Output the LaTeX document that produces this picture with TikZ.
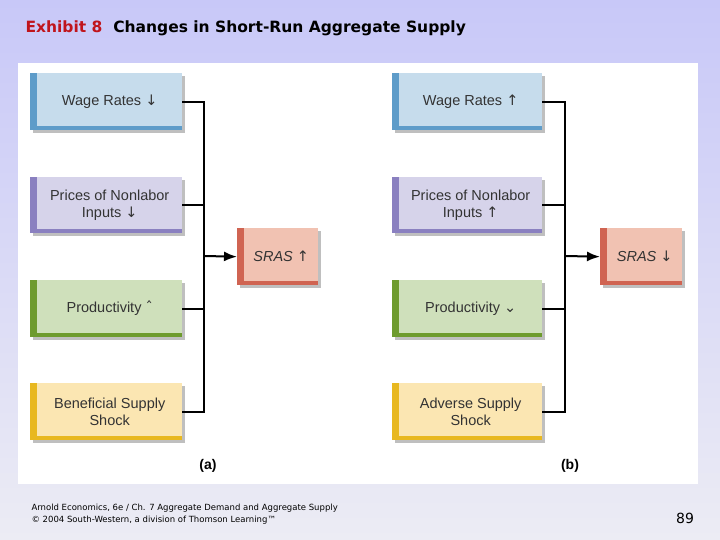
\documentclass[tikz,border=0pt]{standalone}
\usepackage{fontspec}
\usetikzlibrary{arrows.meta}
\setmainfont{Liberation Sans}
\newfontfamily\dvs{DejaVu Sans}
\definecolor{bgtop}{HTML}{C8C8F8}
\definecolor{bgbot}{HTML}{ECECF4}
\definecolor{bL}{HTML}{C6DCEC}\definecolor{bD}{HTML}{5E9CC9}
\definecolor{pL}{HTML}{D6D3EA}\definecolor{pD}{HTML}{8A80C0}
\definecolor{gL}{HTML}{CFE0BB}\definecolor{gD}{HTML}{6E9B2E}
\definecolor{yL}{HTML}{FBE6B2}\definecolor{yD}{HTML}{E8B820}
\definecolor{rL}{HTML}{F1C2B2}\definecolor{rD}{HTML}{D06452}
\definecolor{ttl}{HTML}{C0141C}
\newcommand{\mkbox}[8]{%
  \fill[black!25] (#2+3,#3+3) rectangle (#4+3,#5+3);
  \node[fill=#6,inner sep=0pt,minimum width=#4-#2,minimum height=#5-#3,anchor=north west] (#1) at (#2,#3) {};
  \fill[#7] (#1.south west) rectangle ([yshift=4]#1.south east);
  \fill[#7] (#1.south west) rectangle ([xshift=7]#1.north west);
  \node[txt] at ([xshift=3.5]#1.center) {#8};
}
\begin{document}
\begin{tikzpicture}[x=1pt,y=-1pt,
  txt/.style={font=\fontsize{14.5}{17}\selectfont,text=black!80,align=center},
  conn/.style={line width=2pt},
  arr/.style={line width=2pt,-{Latex[length=13pt,width=10pt]}}]
\useasboundingbox (0,0) rectangle (720,540);
\shade[top color=bgtop,bottom color=bgbot] (0,0) rectangle (720,540);
\fill[white] (18,63) rectangle (698,484);
\node[anchor=west,font=\dvs\bfseries\fontsize{15.5}{18}\selectfont] (title) at (22,28) {\textcolor{ttl}{Exhibit 8}\ \ Changes in Short-Run Aggregate Supply};
% left
\mkbox{a1}{30}{73}{182}{130}{bL}{bD}{Wage Rates {\dvs↓}}
\mkbox{a2}{30}{177}{182}{233}{pL}{pD}{Prices of Nonlabor\\Inputs {\dvs↓}}
\mkbox{a3}{30}{280}{182}{337}{gL}{gD}{Productivity {\dvs ˆ}}
\mkbox{a4}{30}{383}{182}{440}{yL}{yD}{Beneficial Supply\\Shock}
\mkbox{as}{237}{228}{318}{285}{rL}{rD}{\textit{SRAS} {\dvs↑}}
\coordinate (ja) at (204,256);
\draw[conn] (a1.east) -- (a1.east -| ja) -- (a4.east -| ja) -- (a4.east);
\draw[conn] (a2.east) -- (a2.east -| ja);
\draw[conn] (a3.east) -- (a3.east -| ja);
\draw[arr] (ja) -- (as.west);
% right
\mkbox{b1}{392}{73}{542}{130}{bL}{bD}{Wage Rates {\dvs↑}}
\mkbox{b2}{392}{177}{542}{233}{pL}{pD}{Prices of Nonlabor\\Inputs {\dvs↑}}
\mkbox{b3}{392}{280}{542}{337}{gL}{gD}{Productivity {\dvs ⌄}}
\mkbox{b4}{392}{383}{542}{440}{yL}{yD}{Adverse Supply\\Shock}
\mkbox{bs}{600}{228}{682}{285}{rL}{rD}{\textit{SRAS} {\dvs↓}}
\coordinate (jb) at (565,256);
\draw[conn] (b1.east) -- (b1.east -| jb) -- (b4.east -| jb) -- (b4.east);
\draw[conn] (b2.east) -- (b2.east -| jb);
\draw[conn] (b3.east) -- (b3.east -| jb);
\draw[arr] (jb) -- (bs.west);
\node[font=\bfseries\fontsize{14}{16}\selectfont] (la) at (208,466) {(a)};
\node[font=\bfseries\fontsize{14}{16}\selectfont] (lb) at (570,466) {(b)};
\node[anchor=west,align=left,font=\dvs\fontsize{8.5}{12}\selectfont] (foot) at (28,514) {Arnold Economics, 6e / Ch. 7 Aggregate Demand and Aggregate Supply\\© 2004 South-Western, a division of Thomson Learning™};
\node[font=\dvs\fontsize{14}{16}\selectfont] (pg) at (685,518) {89};
\end{tikzpicture}
\end{document}
